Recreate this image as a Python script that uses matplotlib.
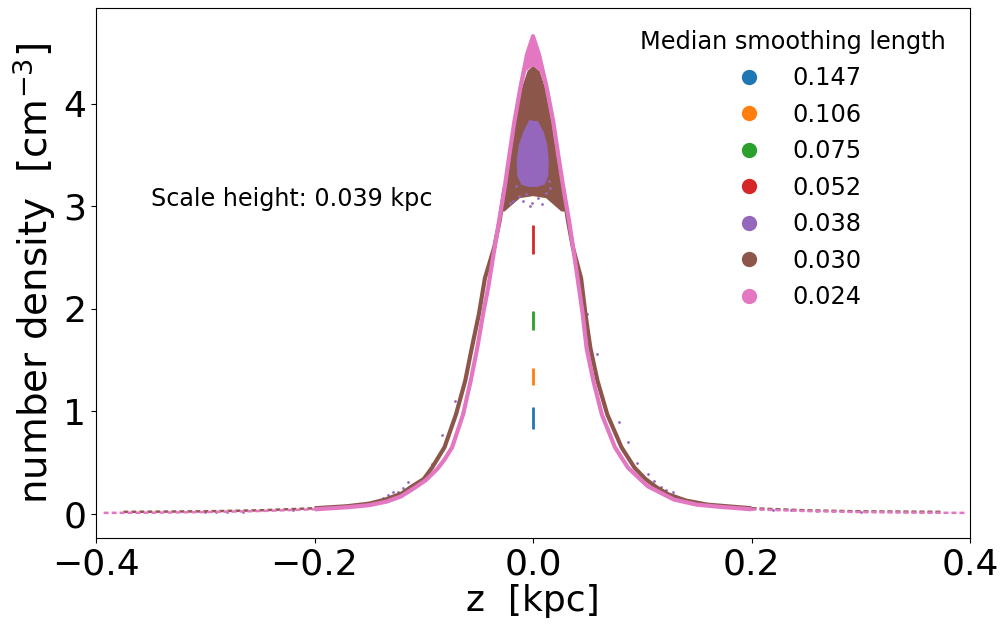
import numpy as np
import matplotlib.pyplot as plt
from matplotlib.lines import Line2D

# smoothing lengths (legend) and colours
labels = ['0.147', '0.106', '0.075', '0.052', '0.038', '0.030', '0.024']
colors = ['tab:blue', 'tab:orange', 'tab:green', 'tab:red',
          'tab:purple', 'tab:brown', 'tab:pink']

# coarse runs: all particles sit at z ~ 0, only a range in density
coarse_z = [0.0, 0.0, 0.0, 0.0]
coarse_lo = [0.83, 1.26, 1.79, 2.54]
coarse_hi = [1.04, 1.42, 1.98, 2.82]

# purple (0.038): central clump outline + scattered particles
purple_clump_z = [-0.003, 0.004, 0.009, 0.012, 0.0135, 0.013, 0.010, 0.004,
                  -0.004, -0.010, -0.0135, -0.014, -0.012, -0.008]
purple_clump_n = [3.83, 3.82, 3.72, 3.60, 3.45, 3.30, 3.22, 3.20,
                  3.20, 3.22, 3.30, 3.45, 3.60, 3.72]
purple_z = [-0.013, -0.009, -0.003, 0.005, 0.012, -0.016, 0.016, -0.001,
            -0.018, -0.021, 0.008, -0.006, 0.015,
            -0.071, -0.083, -0.092, -0.114, -0.119, -0.124, -0.128, -0.133, -0.137,
            0.049, 0.059, 0.079, 0.087, 0.095, 0.105, 0.111, 0.117, 0.122, 0.128, 0.133,
            -0.30, -0.29, -0.28, -0.265, -0.22, -0.18,
            0.20, 0.21, 0.22, 0.236, 0.26, 0.275, 0.29, 0.30]
purple_n = [3.10, 3.05, 3.00, 3.08, 3.13, 3.20, 3.18, 3.03,
            3.05, 3.03, 3.02, 3.12, 3.25,
            1.10, 0.77, 0.49, 0.31, 0.25, 0.21, 0.21, 0.18, 0.16,
            1.95, 1.56, 0.90, 0.70, 0.50, 0.39, 0.32, 0.26, 0.23, 0.21, 0.16,
            0.015, 0.017, 0.018, 0.022, 0.04, 0.06,
            0.05, 0.045, 0.04, 0.035, 0.03, 0.028, 0.025, 0.022]

# brown (0.030): central blob outline + profile of each flank
brown_blob_z = [-0.029, -0.0255, -0.0205, -0.016, -0.010, -0.005, 0.0,
                0.006, 0.011, 0.017, 0.0215, 0.0265, 0.0295,
                0.026, 0.012, 0.0, -0.012, -0.026]
brown_blob_n = [2.95, 3.18, 3.51, 3.83, 4.16, 4.32, 4.37,
                4.32, 4.16, 3.83, 3.51, 3.18, 2.95,
                2.95, 3.08, 3.10, 3.08, 2.95]
brown_left_z = [-0.375, -0.30, -0.25, -0.20, -0.17, -0.15, -0.135, -0.12, -0.112, -0.10,
                -0.0925, -0.081, -0.0705, -0.062, -0.056, -0.0495, -0.044, -0.0355,
                -0.0305, -0.026]
brown_left_n = [0.02, 0.025, 0.035, 0.055, 0.075, 0.10, 0.14, 0.20, 0.26, 0.34,
                0.45, 0.65, 0.97, 1.30, 1.62, 1.95, 2.30, 2.60, 2.86, 3.18]
brown_right_z = [0.0275, 0.032, 0.0365, 0.044, 0.048, 0.0525, 0.059, 0.068, 0.081,
                 0.093, 0.103, 0.113, 0.124, 0.14, 0.16, 0.20, 0.25, 0.30, 0.375]
brown_right_n = [3.18, 2.86, 2.60, 2.30, 1.95, 1.62, 1.30, 0.97, 0.65,
                 0.45, 0.34, 0.26, 0.19, 0.13, 0.09, 0.055, 0.035, 0.025, 0.02]

# pink (0.024): cap near the peak + full profile
pink_cap_z = [-0.013, -0.0095, -0.0065, -0.003, 0.0, 0.003, 0.0065, 0.010, 0.0135,
              0.011, 0.006, 0.0, -0.006, -0.010]
pink_cap_n = [4.16, 4.33, 4.48, 4.60, 4.68, 4.60, 4.48, 4.33, 4.16,
              4.16, 4.32, 4.37, 4.32, 4.16]
pink_z = [-0.393, -0.35, -0.30, -0.25, -0.20, -0.17, -0.15, -0.134, -0.121, -0.109,
          -0.098, -0.0875, -0.081, -0.074, -0.064, -0.057, -0.051, -0.0457, -0.041,
          -0.036, -0.031, -0.026, -0.0215, -0.017, -0.0115, -0.0055, 0.0,
          0.0055, 0.0125, 0.0185, 0.023, 0.0278, 0.033, 0.0375, 0.042, 0.0455,
          0.049, 0.0552, 0.063, 0.075, 0.087, 0.105, 0.129, 0.15, 0.17, 0.20,
          0.25, 0.30, 0.35, 0.395]
pink_n = [0.01, 0.012, 0.018, 0.028, 0.045, 0.065, 0.085, 0.12, 0.17, 0.25,
          0.33, 0.44, 0.53, 0.65, 0.97, 1.30, 1.62, 1.95, 2.21,
          2.54, 2.86, 3.18, 3.51, 3.83, 4.16, 4.48, 4.66,
          4.48, 4.16, 3.83, 3.51, 3.18, 2.86, 2.54, 2.21, 1.95,
          1.62, 1.30, 0.97, 0.65, 0.45, 0.27, 0.14, 0.09, 0.07, 0.045,
          0.028, 0.018, 0.012, 0.01]


def draw_profile(ax, z, n, color):
    # thick in the body of the disc, thin dotted-looking in the sparse tails
    z = np.array(z)
    n = np.array(n)
    core = np.abs(z) <= 0.2
    ax.plot(z[core], n[core], color=color, lw=3, solid_capstyle='butt')
    for side in (z <= -0.2, z >= 0.2):
        ax.plot(z[side], n[side], color=color, lw=1.8, ls=(0, (2, 1.2)))


fig = plt.figure(figsize=(10.05, 6.26), dpi=100)
ax = fig.add_axes([96/1005, 1-538/626, (970-96)/1005, (538-8)/626])

for i in range(4):
    ax.vlines(coarse_z[i], coarse_lo[i], coarse_hi[i], color=colors[i], lw=2)

ax.fill(brown_blob_z, brown_blob_n, color=colors[5], lw=0)
draw_profile(ax, brown_left_z, brown_left_n, colors[5])
draw_profile(ax, brown_right_z, brown_right_n, colors[5])

ax.fill(purple_clump_z, purple_clump_n, color=colors[4], lw=1.5)
ax.scatter(purple_z, purple_n, s=4, color=colors[4], lw=0)

ax.fill(pink_cap_z, pink_cap_n, color=colors[6], lw=0)
draw_profile(ax, pink_z, pink_n, colors[6])

ax.set_xlim(-0.4, 0.4)
ax.set_ylim(-0.235, 4.935)
ax.set_xticks([-0.4, -0.2, 0.0, 0.2, 0.4])
ax.set_yticks([0, 1, 2, 3, 4])
ax.tick_params(labelsize=26)
ax.set_xlabel('z  [kpc]', fontsize=26, labelpad=2)
ax.set_ylabel('number density  [cm$^{-3}$]', fontsize=28, labelpad=4)

ax.text(-0.35, 3.0, 'Scale height: 0.039 kpc', fontsize=17.2)

handles = [Line2D([], [], marker='o', ls='', color=c, markersize=10) for c in colors]
leg = ax.legend(handles, labels, title='Median smoothing length', fontsize=17.3,
                title_fontsize=17.3, frameon=False, loc='upper right',
                labelspacing=0.52, bbox_to_anchor=(0.997, 1.0))

plt.savefig('out.png', dpi=100)
